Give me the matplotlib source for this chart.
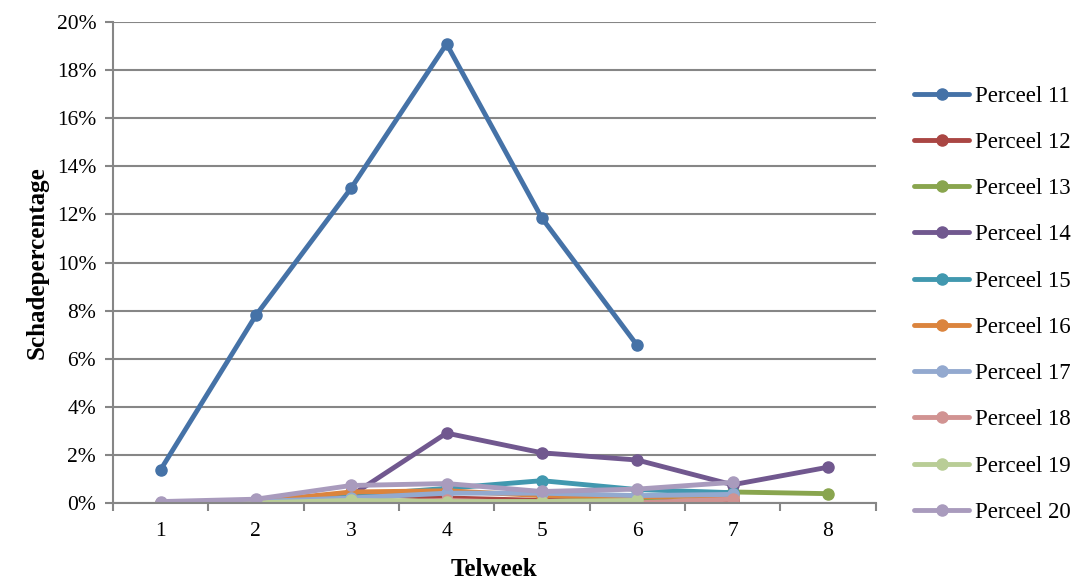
import numpy as np
import matplotlib
matplotlib.use("Agg")
import matplotlib.pyplot as plt
from matplotlib.ticker import FuncFormatter, FixedLocator

plt.rcParams['font.family'] = ['Liberation Serif', 'DejaVu Serif']

nan = np.nan
weeks = [1, 2, 3, 4, 5, 6, 7, 8]
labels = ['Perceel 11', 'Perceel 12', 'Perceel 13', 'Perceel 14', 'Perceel 15',
          'Perceel 16', 'Perceel 17', 'Perceel 18', 'Perceel 19', 'Perceel 20']

# schade in procenten per telweek
p11 = [1.37, 7.8, 13.1, 19.1, 11.85, 6.55, nan, nan]
p12 = [0.0, 0.05, 0.4, 0.2, 0.1, 0.05, 0.1, nan]
p13 = [0.0, 0.0, 0.1, 0.05, 0.05, 0.15, 0.45, 0.38]
p14 = [0.0, 0.1, 0.3, 2.9, 2.08, 1.78, 0.75, 1.48]
p15 = [0.0, 0.05, 0.3, 0.6, 0.92, 0.55, 0.42, nan]
p16 = [0.0, 0.05, 0.45, 0.5, 0.3, 0.25, 0.3, nan]
p17 = [0.0, 0.05, 0.2, 0.4, 0.4, 0.3, 0.35, nan]
p18 = [0.0, 0.0, 0.0, 0.1, 0.0, 0.0, 0.15, nan]
p19 = [0.0, 0.0, 0.1, 0.05, 0.05, 0.1, nan, nan]
p20 = [0.05, 0.15, 0.72, 0.8, 0.47, 0.57, 0.85, nan]
series = [p11, p12, p13, p14, p15, p16, p17, p18, p19, p20]

colors = ['#4572A7', '#AA4643', '#89A54E', '#71588F', '#4198AF',
          '#DB843D', '#93A9CF', '#D19392', '#B9CD96', '#A99BBD']

fig = plt.figure(figsize=(10.85, 5.86), dpi=100)
ax = fig.add_axes([0.104, 0.142, 0.703, 0.82])

for vals, lab, c in zip(series, labels, colors):
    ax.plot(weeks, vals, color=c, lw=3.5, marker='o', ms=8, label=lab,
            solid_capstyle='round', solid_joinstyle='round')

grid_c = '#868686'
ax.set_xlim(0.5, 8.5)
ax.set_ylim(0, 20)
ax.set_yticks(np.arange(0, 21, 2))
ax.yaxis.set_major_formatter(FuncFormatter(lambda v, p: f'{v:.0f}%'))
ax.grid(axis='y', color=grid_c, lw=1.5)
ax.set_axisbelow(True)

# streepjes tussen de weken, labels in het midden
ax.set_xticks(weeks)
ax.set_xticklabels([str(w) for w in weeks])
ax.xaxis.set_minor_locator(FixedLocator(np.arange(0.5, 9, 1)))
ax.tick_params(axis='x', which='major', length=0, labelsize=15.5, pad=14)
ax.tick_params(axis='x', which='minor', length=6, width=1.5, color=grid_c)
ax.tick_params(axis='y', length=6, width=1.5, color=grid_c, labelsize=15.5, pad=6)

for s in ['top', 'right']:
    ax.spines[s].set_visible(False)
for s in ['left', 'bottom']:
    ax.spines[s].set_color(grid_c)
    ax.spines[s].set_linewidth(1.5)

ax.set_xlabel('Telweek', fontsize=18, fontweight='bold', labelpad=12)
ax.set_ylabel('Schadepercentage', fontsize=18, fontweight='bold', labelpad=6)

ax.legend(loc='center left', bbox_to_anchor=(1.051, 0.413), frameon=False,
          fontsize=16.5, labelspacing=1.1, handlelength=2.4, handletextpad=0.25,
          borderpad=0, borderaxespad=0)

fig.savefig('out.png', dpi=100)
